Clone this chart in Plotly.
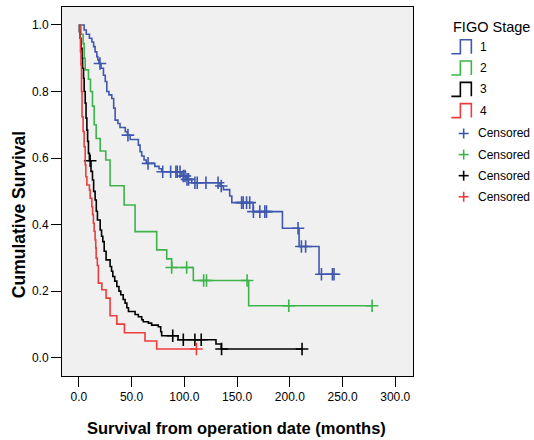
import plotly.graph_objects as go

# ---------------- data ----------------
stage_names = ["1", "2", "3", "4"]
stage_colors = ["#3f58ae", "#3cb44a", "#000000", "#ee3c3c"]

# Stage 1
s1_times = [0, 5, 7, 10, 12.3, 14, 15.4, 17, 18, 19, 21, 23.3, 25, 26.5, 28.5, 31.2, 33, 34.4, 37, 39,
            44, 46, 48.6, 56.4, 58, 59.6, 61.8, 64, 72, 76, 78.5, 97.5, 102, 107, 134, 137, 143, 145,
            165.2, 193, 208.8, 227.7]
s1_surv = [1.0, 0.985, 0.972, 0.960, 0.949, 0.935, 0.919, 0.905, 0.895, 0.884, 0.870, 0.849, 0.830,
           0.800, 0.790, 0.779, 0.750, 0.714, 0.704, 0.692, 0.679, 0.669, 0.656, 0.639, 0.619, 0.606,
           0.594, 0.584, 0.575, 0.568, 0.559, 0.546, 0.536, 0.526, 0.516, 0.505, 0.486, 0.466,
           0.439, 0.389, 0.334, 0.251]
s1_cens = [20, 46.5, 65.6, 79.5, 87, 92, 93.3, 95.9, 99, 100.6, 102.5, 104, 110, 112.2, 120.5, 132,
           135, 154.3, 155.8, 159, 162, 165.5, 171.6, 176.3, 177.9, 207.8, 211, 215, 230, 240.4, 241.9]

# Stage 2
s2_times = [0, 2, 4, 5, 6, 9.1, 11, 12.9, 14.5, 16.4, 20.2, 25.5, 29.6, 42.9, 53.3, 73.8, 83.3, 88,
            108.5, 161]
s2_surv = [1.0, 0.972, 0.944, 0.900, 0.865, 0.837, 0.800, 0.756, 0.700, 0.659, 0.621, 0.594, 0.517,
           0.459, 0.379, 0.324, 0.297, 0.271, 0.232, 0.156]
s2_cens = [88, 102.2, 118.3, 121, 159.5, 199, 278]

# Stage 3
s3_times = [0, 0.5, 1, 2, 3, 3.5, 4.4, 5, 6, 6.8, 7.6, 8.3, 9.1, 10, 11.5, 12.9, 14, 15.4, 16.5, 17.6,
            20.2, 21.5, 22.7, 24, 25.8, 29.6, 31, 32.2, 34, 36, 38, 39.7, 42, 43.8, 45.5, 47, 53.3,
            56.4, 59.6, 61, 65.9, 69, 75.3, 77.6, 78.5, 94, 130, 135]
s3_surv = [1.0, 0.980, 0.960, 0.930, 0.900, 0.870, 0.840, 0.800, 0.765, 0.720, 0.684, 0.650, 0.614,
           0.592, 0.560, 0.534, 0.500, 0.474, 0.440, 0.414, 0.384, 0.365, 0.349, 0.320, 0.294, 0.274,
           0.260, 0.244, 0.230, 0.214, 0.200, 0.189, 0.175, 0.164, 0.150, 0.139, 0.130, 0.123,
           0.114, 0.108, 0.104, 0.098, 0.093, 0.078, 0.066, 0.054, 0.041, 0.026]
s3_cens = [10.7, 89, 99, 110, 116, 135.3, 211.6]

# Stage 4
s4_times = [0, 1, 1.5, 2, 2.5, 3, 4, 5, 6, 6.6, 7.6, 10, 10.7, 12.3, 13, 13.8, 14.5, 15.4, 16,
            16.4, 17.5, 18.5, 21.8, 25.8, 29.6, 36, 43.2, 62.7, 73.8]
s4_surv = [1.0, 0.960, 0.920, 0.880, 0.800, 0.724, 0.680, 0.634, 0.580, 0.544, 0.519, 0.504, 0.479,
           0.454, 0.430, 0.404, 0.380, 0.354, 0.330, 0.299, 0.277, 0.224, 0.204, 0.179, 0.126,
           0.101, 0.075, 0.050, 0.026]
s4_cens = [111.5]

x_ticks = [0, 50, 100, 150, 200, 250, 300]
y_ticks = [0.0, 0.2, 0.4, 0.6, 0.8, 1.0]

legend_title = "FIGO Stage"
censored_label = "Censored"
x_title = "Survival from operation date (months)"
y_title = "Cumulative Survival"

groups = [
    (s1_times, s1_surv, s1_cens),
    (s2_times, s2_surv, s2_cens),
    (s3_times, s3_surv, s3_cens),
    (s4_times, s4_surv, s4_cens),
]

# ---------------- layout geometry ----------------
W, H = 534, 440
PL, PR, PT, PB = 62, 413.3, 6.7, 376  # plot-area pixel box
FONT = "Liberation Sans, Arial"


def px2paper(px, py):
    return (px - PL) / (PR - PL), (PB - py) / (PB - PT)


def surv_at(times, surv, t):
    val = surv[0]
    for ti, si in zip(times, surv):
        if ti <= t:
            val = si
    return val


fig = go.Figure()

for (times, surv, cens), color, name in zip(groups, stage_colors, stage_names):
    end_t = max(max(cens), times[-1])
    xs = list(times) + [end_t]
    ys = list(surv) + [surv[-1]]
    fig.add_trace(go.Scatter(x=xs, y=ys, mode="lines", line=dict(color=color, width=1.6, shape="hv"),
                             name=name, showlegend=False, hoverinfo="skip"))
    cy = [surv_at(times, surv, c) for c in cens]
    fig.add_trace(go.Scatter(x=cens, y=cy, mode="markers",
                             marker=dict(symbol="cross-thin", size=9, line=dict(color=color, width=1.6)),
                             name=censored_label, showlegend=False, hoverinfo="skip"))

# ---------------- custom legend (SPSS style) ----------------
shapes = []
annotations = []
fx, fy = px2paper(451.7, 26.7)
annotations.append(dict(text=legend_title, x=fx, y=fy, xref="paper", yref="paper", xanchor="left",
                        yanchor="middle", showarrow=False,
                        font=dict(size=14.5, color="#000", family=FONT)))
for i, (color, name) in enumerate(zip(stage_colors, stage_names)):
    top = 39.5 + i * 21.3
    bot = top + 14
    x0, y0 = px2paper(451.7, bot)
    x1, y1 = px2paper(460.7, top)
    x2, _ = px2paper(471.7, bot)
    path = f"M {x0},{y0} L {x1},{y0} L {x1},{y1} L {x2},{y1} L {x2},{y0}"
    shapes.append(dict(type="path", path=path, xref="paper", yref="paper",
                       line=dict(color=color, width=1.6)))
    lx, ly = px2paper(478, (top + bot) / 2)
    annotations.append(dict(text=name, x=lx, y=ly, xref="paper", yref="paper", xanchor="left",
                            yanchor="middle", showarrow=False,
                            font=dict(size=12, color="#000", family=FONT)))
for i, color in enumerate(stage_colors):
    cyp = 133.3 + i * 21.1
    ax0, ay0 = px2paper(459, cyp)
    ax1, _ = px2paper(469, cyp)
    shapes.append(dict(type="line", x0=ax0, x1=ax1, y0=ay0, y1=ay0, xref="paper", yref="paper",
                       line=dict(color=color, width=1.6)))
    bx, by0 = px2paper(464, cyp - 5)
    _, by1 = px2paper(464, cyp + 5)
    shapes.append(dict(type="line", x0=bx, x1=bx, y0=by0, y1=by1, xref="paper", yref="paper",
                       line=dict(color=color, width=1.6)))
    tx, ty = px2paper(476, cyp)
    annotations.append(dict(text=censored_label, x=tx, y=ty, xref="paper", yref="paper",
                            xanchor="left", yanchor="middle", showarrow=False,
                            font=dict(size=12, color="#000", family=FONT)))

# axis titles
tx, ty = px2paper(237, 428)
annotations.append(dict(text=f"<b>{x_title}</b>", x=tx, y=ty, xref="paper", yref="paper",
                        xanchor="center", yanchor="middle", showarrow=False,
                        font=dict(size=16.5, color="#000", family=FONT)))
tx, ty = px2paper(19, 215)
annotations.append(dict(text=f"<b>{y_title}</b>", x=tx, y=ty, xref="paper", yref="paper",
                        xanchor="center", yanchor="middle", textangle=-90, showarrow=False,
                        font=dict(size=17.5, color="#000", family=FONT)))

fig.update_layout(
    width=W, height=H,
    margin=dict(l=PL, r=W - PR, t=PT, b=H - PB, pad=0),
    paper_bgcolor="white", plot_bgcolor="#f0f0f0",
    shapes=shapes, annotations=annotations, showlegend=False,
    font=dict(family=FONT, size=12, color="#000"),
)
fig.update_xaxes(range=[-16, 316.8], tickvals=x_ticks, ticktext=[f"{v:.1f}" for v in x_ticks],
                 showgrid=False, zeroline=False, showline=True, linecolor="#000", linewidth=1,
                 mirror=True, ticks="outside", ticklen=10, tickcolor="#000", tickwidth=1.2,
                 tickfont=dict(size=12))
fig.update_yaxes(range=[-0.055, 1.054], tickvals=y_ticks, ticktext=[f"{v:.1f}" for v in y_ticks],
                 showgrid=False, zeroline=False, showline=True, linecolor="#000", linewidth=1,
                 mirror=True, ticks="outside", ticklen=10, tickcolor="#000", tickwidth=1.2,
                 tickfont=dict(size=12), ticklabelstandoff=0)

fig.write_html("out.html", config={"displayModeBar": False},
               post_script="document.body.style.margin='0px';")
